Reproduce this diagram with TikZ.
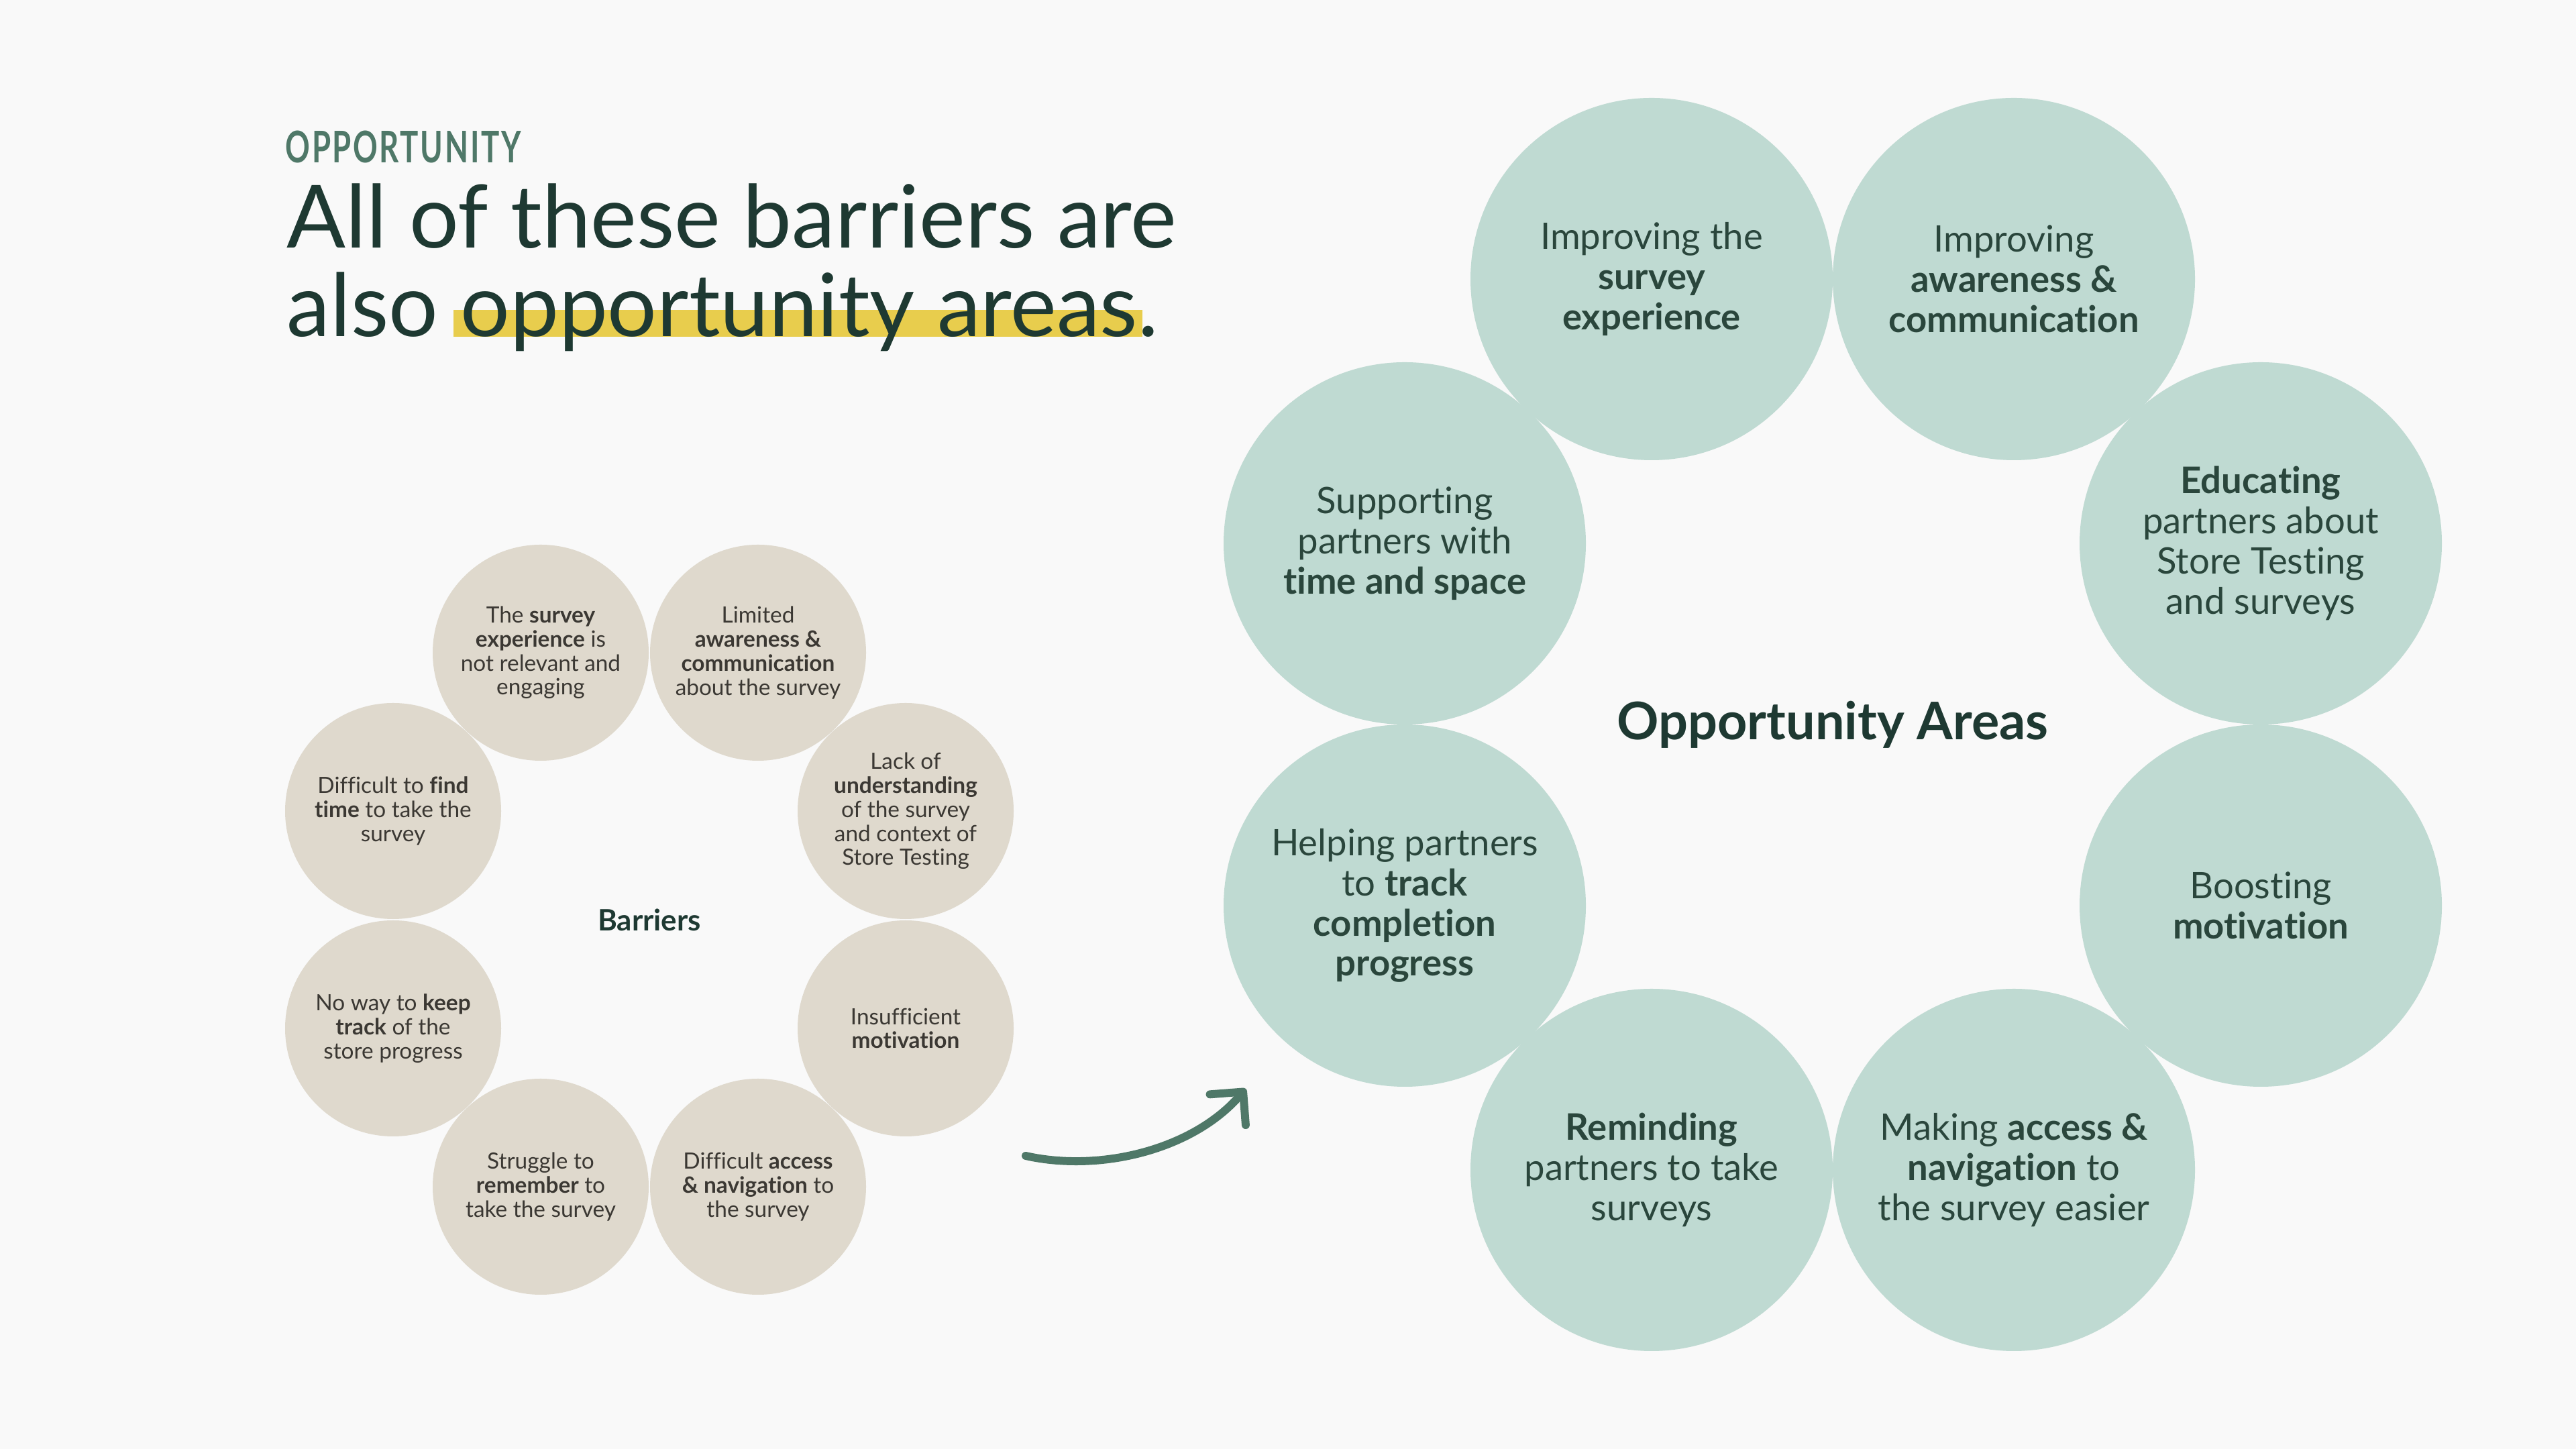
\documentclass[tikz,border=0pt]{standalone}
\usepackage{fontspec}
\setmainfont{Lato}[Ligatures=NoCommon]
\newfontfamily\eyebrowfont{Lato}[FakeStretch=0.70,LetterSpace=4]
\usetikzlibrary{arrows.meta}
\definecolor{paper}{HTML}{F9F9F9}
\definecolor{sand}{HTML}{DFD9CD}
\definecolor{mint}{HTML}{BFDAD2}
\definecolor{housegreen}{HTML}{1E3932}
\definecolor{sagegreen}{HTML}{4F7868}
\definecolor{hlyellow}{HTML}{E8CD4D}
\definecolor{barrierink}{HTML}{3B3833}
\definecolor{mintink}{HTML}{2A463C}
\newcommand{\hlmark}[1]{\setbox0\hbox{#1}\rlap{\kern-3pt\textcolor{hlyellow}{\rule{\dimexpr\wd0+5pt\relax}{0.40cm}}}\box0}

\begin{document}
\begin{tikzpicture}[
    barrier/.style={circle, fill=sand, minimum size=3.22cm, inner sep=0pt, align=center,
      text=barrierink, font=\fontsize{9.5}{10.2}\selectfont},
    area/.style={circle, fill=mint, minimum size=5.40cm, inner sep=0pt, align=center,
      text=mintink, font=\fontsize{15.5}{17}\selectfont},
    ringlbl/.style={font=\bfseries, text=housegreen}]
    \fill[paper] (0,0) rectangle (38.4,21.6);
    \useasboundingbox (0,0) rectangle (38.4,21.6);

    % heading
    \node[anchor=base west, text=sagegreen, font=\eyebrowfont\bfseries\fontsize{18.5}{19}\selectfont, inner sep=0pt] (eyebrow) at (4.25,19.17) {OPPORTUNITY};
    \node[anchor=base west, text=housegreen, font=\fontsize{37}{37.6}\selectfont, inner sep=0pt] (headline1) at (4.27,17.90) {All of these barriers are};
    \node[anchor=base west, text=housegreen, font=\fontsize{37}{37.6}\selectfont, inner sep=0pt] (headline2) at (4.27,16.58) {also \hlmark{opportunity areas}.};

    % barriers ring
    \node[barrier] (survey) at (8.06,11.87) {The \textbf{survey}\\\textbf{experience} is\\not relevant and\\engaging};
    \node[barrier] (aware) at (11.30,11.87) {Limited\\\textbf{awareness \&}\\\textbf{communication}\\about the survey};
    \node[barrier] (underst) at (13.50,9.51) {Lack of\\\textbf{understanding}\\of the survey\\and context of\\Store Testing};
    \node[barrier] (motiv) at (13.50,6.27) {Insufficient\\\textbf{motivation}};
    \node[barrier] (access) at (11.30,3.91) {Difficult \textbf{access}\\\textbf{\& navigation} to\\the survey};
    \node[barrier] (remember) at (8.06,3.91) {Struggle to\\\textbf{remember} to\\take the survey};
    \node[barrier] (track) at (5.86,6.27) {No way to \textbf{keep}\\\textbf{track} of the\\store progress};
    \node[barrier] (findtime) at (5.86,9.51) {Difficult to \textbf{find}\\\textbf{time} to take the\\survey};
    \node[ringlbl, font=\bfseries\fontsize{12.5}{13}\selectfont] (barriers) at (9.68,7.89) {Barriers};

    % opportunity ring
    \node[area] (oppsurvey) at (24.62,17.44) {Improving the\\\textbf{survey}\\\textbf{experience}};
    \node[area] (oppaware) at (30.02,17.44) {Improving\\\textbf{awareness \&}\\\textbf{communication}};
    \node[area] (oppeducate) at (33.70,13.50) {\textbf{Educating}\\partners about\\Store Testing\\and surveys};
    \node[area] (oppmotiv) at (33.70,8.10) {Boosting\\\textbf{motivation}};
    \node[area] (oppaccess) at (30.02,4.16) {Making \textbf{access \&}\\\textbf{navigation} to\\the survey easier};
    \node[area] (oppremind) at (24.62,4.16) {\textbf{Reminding}\\partners to take\\surveys};
    \node[area] (opptrack) at (20.94,8.10) {Helping partners\\to \textbf{track}\\\textbf{completion}\\\textbf{progress}};
    \node[area] (opptime) at (20.94,13.50) {Supporting\\partners with\\\textbf{time and space}};
    \node[ringlbl, font=\bfseries\fontsize{22}{24}\selectfont] (areas) at (27.32,10.80) {Opportunity Areas};

    % arrow between the rings
    \coordinate (arrowtail) at (15.29,4.37);
    \coordinate (arrowtip) at (18.57,5.37);
    \draw[sagegreen, line width=3.4pt, line cap=round,
      -{Straight Barb[length=10pt,width=20pt,round]}]
      (arrowtail) .. controls (16.40,4.12) and (17.79,4.46) .. (arrowtip);
  \end{tikzpicture}
\end{document}
